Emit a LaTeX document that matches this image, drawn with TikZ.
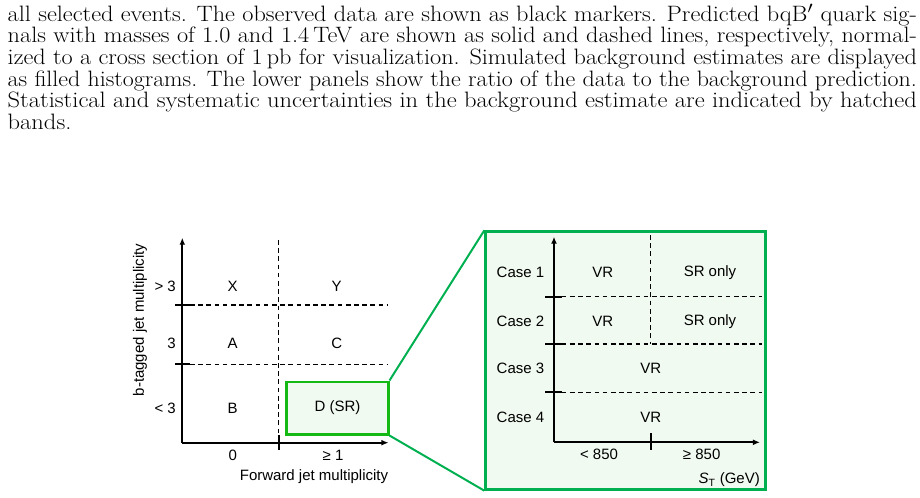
\documentclass[tikz,border=0pt]{standalone}
\usepackage{amsmath}
\usepackage{graphicx}
\usepackage{fontspec}
\setsansfont{Liberation Sans}
\usepackage{xcolor}
\definecolor{PanelGreen}{RGB}{0,176,80}
\definecolor{BoxGreen}{RGB}{20,185,20}
\definecolor{FillGreen}{RGB}{241,250,241}
\usepackage{tikz}
\usetikzlibrary{
  arrows.meta,
  positioning, calc
}
% one justified caption line, spread over the full width
\newcommand{\capline}[1]{\resizebox{776pt}{\height}{#1}}
\tikzset{
  % Caption lines
  captext/.style={anchor=base west, inner sep=0pt, font=\fontsize{19}{18.44}\selectfont},
  % Region / axis labels
  rlabel/.style={font=\sffamily\fontsize{12.8}{15}\selectfont, inner sep=0pt},
  % Axes and boundaries
  axis/.style={-{Latex[length=6pt,width=5pt]}, line width=2pt},
  tick/.style={line width=2pt},
  bound/.style={dash pattern=on 4pt off 3pt, line width=0.9pt},
  % Signal region box and its zoom panel
  srbox/.style={
    rectangle, draw=BoxGreen, line width=2pt, fill=FillGreen,
    minimum width=3.05cm, minimum height=1.58cm,
    font=\sffamily\fontsize{12.8}{15}\selectfont, inner sep=0pt
  },
  zoombox/.style={
    rectangle, draw=PanelGreen, line width=2pt, fill=FillGreen,
    minimum width=8.4cm, minimum height=7.74cm
  },
  zoomline/.style={PanelGreen, line width=1.7pt},
}

\begin{document}
\begin{tikzpicture}[x=0.03cm, y=-0.03cm]
  \useasboundingbox (0,0) rectangle (920,497);

  %% Caption text (baselines 21.6px apart)
  \node[captext] (cap1) at (7.5,21.3)  {\capline{all selected events. The observed data are shown as black markers. Predicted bqB$'$ quark sig-}};
  \node[captext] (cap2) at (7.5,42.9)  {\capline{nals with masses of 1.0 and 1.4\,TeV are shown as solid and dashed lines, respectively, normal-}};
  \node[captext] (cap3) at (7.5,64.5)  {\capline{ized to a cross section of 1\,pb for visualization. Simulated background estimates are displayed}};
  \node[captext] (cap4) at (7.5,86.1)  {\capline{as filled histograms. The lower panels show the ratio of the data to the background prediction.}};
  \node[captext] (cap5) at (7.5,107.7) {\capline{Statistical and systematic uncertainties in the background estimate are indicated by hatched}};
  % last line: same horizontal scale as the line above
  \node[captext] (cap6) at (7.5,129.3) {\sbox0{Statistical and systematic uncertainties in the background estimate are indicated by hatched}%
    \pgfmathsetmacro\capscale{776/\the\wd0}\scalebox{\capscale}[1]{bands.}};

  %% Zoom panel (drawn first, lines go on top)
  \node[zoombox] (zoom) at (625.5,360.5) {};

  %% Left panel: axes
  \coordinate (LO) at (182.3,442.7);
  \draw[axis] (LO) -- (182.3,237.7);
  \draw[axis] (LO) -- (388.5,442.7);

  %% Left panel: boundaries (y in px)
  \foreach \y in {305,364.3}{
    \draw[tick]  (175,\y) -- (190,\y);
    \draw[bound] (190,\y) -- (387,\y);
  }
  \draw[bound] (278.7,240) -- (278.7,435);
  \draw[tick]  (278.7,435) -- (278.7,450);

  %% Regions
  \foreach \n/\x/\y in {X/232.7/286, Y/336.7/286, A/232.7/343, C/336.7/343, B/232.7/408}{
    \node[rlabel] (\n) at (\x,\y) {\n};
  }
  \node[srbox] (D) at (337.5,408) {D (SR)};

  %% Left panel: axis labels
  \node[rlabel, anchor=east] (bhi)  at (176,286) {> 3};
  \node[rlabel, anchor=east] (bmid) at (176,343) {3};
  \node[rlabel, anchor=east] (blo)  at (176,408) {< 3};
  \node[rlabel] (fzero) at (232.7,455) {0};
  \node[rlabel] (fone)  at (333,455) {≥ 1};
  \node[rlabel] (fwd)   at (314,476.5) {Forward jet multiplicity};
  \node[rlabel, rotate=90] (btag) at (140,320) {b-tagged jet multiplicity};

  %% Zoom lines
  \draw[zoomline] (D.north east) -- (zoom.north west);
  \draw[zoomline] (D.south east) -- (zoom.south west);

  %% Right panel: axes
  \coordinate (RO) at (554,442.3);
  \draw[axis] (RO) -- (554,236.7);
  \draw[axis] (RO) -- (760,442.3);

  %% Right panel: boundaries
  \foreach \y in {296.7,344,392.3}{
    \draw[tick]  (545,\y) -- (561.7,\y);
    \draw[bound] (561.7,\y) -- (761.7,\y);
  }
  \draw[bound] (650.7,235) -- (650.7,344);
  \draw[tick]  (650.7,433.3) -- (650.7,450);

  %% Cases
  \foreach \i/\y in {1/272.3, 2/321.7, 3/368.3, 4/417.7}{
    \node[rlabel] (case\i) at (520.5,\y) {Case \i};
  }
  \foreach \i/\y in {1/272.3, 2/321.7}{
    \node[rlabel] (vr\i) at (602.7,\y) {VR};
    \node[rlabel] (sr\i) at (710,\y) {SR only};
  }
  \node[rlabel] (vr3) at (650.7,368.3) {VR};
  \node[rlabel] (vr4) at (650.7,417.7) {VR};

  %% Right panel: axis labels
  \node[rlabel] (stlo) at (599,454.3) {< 850};
  \node[rlabel] (sthi) at (701.7,454.3) {≥ 850};
  \node[rlabel, anchor=east] (st) at (760,480) {\textit{S}\textsubscript{T} (GeV)};
\end{tikzpicture}
\end{document}
